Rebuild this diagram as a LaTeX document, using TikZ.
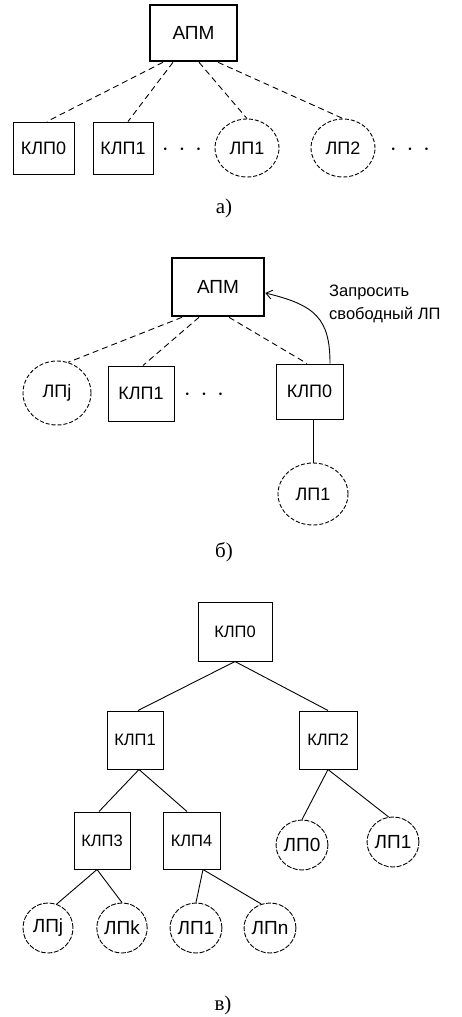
\documentclass[tikz,border=0pt]{standalone}
\usepackage{fontspec}
\setmainfont{Liberation Serif}
\newfontfamily\arial{Liberation Sans}
\usetikzlibrary{shapes.geometric,arrows.meta,calc}
\begin{document}
\begin{tikzpicture}[x=1pt,y=-1pt,
  box/.style={draw,line width=1pt,rectangle,inner sep=0pt,font=\arial\fontsize{18}{20}\selectfont},
  apmbox/.style={draw,line width=2.6pt,rectangle,inner sep=0pt,minimum width=#1,font=\arial\fontsize{19}{21}\selectfont},
  circA/.style={draw,ellipse,inner sep=0pt,line width=0.9pt,dash pattern=on 4pt off 2pt,font=\arial\fontsize{18}{20}\selectfont},
  cbox/.style={draw,line width=1pt,rectangle,inner sep=0pt,minimum width=57pt,minimum height=57pt,font=\arial\fontsize{16.5}{18}\selectfont},
  circC/.style={draw,ellipse,inner sep=0pt,minimum width=50pt,minimum height=50pt,line width=0.9pt,dash pattern=on 5pt off 1.5pt,font=\arial\fontsize{19}{20}\selectfont},
  dline/.style={line width=0.9pt,dash pattern=on 6pt off 4pt},
  sline/.style={line width=0.9pt},
  dotsn/.style={inner sep=0pt,font=\arial\fontsize{30}{30}\selectfont},
  caption/.style={inner sep=0pt,font=\fontsize{21}{24}\selectfont}
]
\useasboundingbox (0,0) rectangle (462,1017);
% ---------- a)
\node[apmbox=87pt,minimum height=56pt] (apmA) at (193.5,33) {АПМ};
\node[box,minimum width=61pt,minimum height=52pt] (klp0a) at (43.5,148) {КЛП0};
\node[box,minimum width=60pt,minimum height=52pt] (klp1a) at (123,148) {КЛП1};
\node[dotsn] (dotsa1) at (182,150) {$\cdot\,\cdot\,\cdot$};
\node[circA,minimum width=64pt,minimum height=58pt] (lp1a) at (247,148) {ЛП1};
\node[circA,minimum width=64pt,minimum height=58pt] (lp2a) at (343,148) {ЛП2};
\node[dotsn] (dotsa2) at (410,150) {$\cdot\,\cdot\,\cdot$};
\node[caption] (capA) at (224,208) {а)};
\draw[dline] ([xshift=-30.5pt]apmA.south) -- ([xshift=3.5pt]klp0a.north);
\draw[dline] ([xshift=-20.5pt]apmA.south) -- ([xshift=5pt]klp1a.north);
\draw[dline] ([xshift=5.5pt]apmA.south) -- (lp1a.north);
\draw[dline] ([xshift=24.5pt]apmA.south) -- (lp2a.north);
% ---------- b)
\node[apmbox=92pt,minimum height=58pt] (apmB) at (218,287) {АПМ};
\node[circA,minimum width=68pt,minimum height=64pt] (lpjb) at (57,393) {ЛПj};
\node[box,minimum width=66pt,minimum height=55pt] (klp1b) at (141,393.5) {КЛП1};
\node[dotsn] (dotsb) at (204,395) {$\cdot\,\cdot\,\cdot$};
\node[box,minimum width=67pt,minimum height=55pt] (klp0b) at (309.5,391.5) {КЛП0};
\node[circA,minimum width=70pt,minimum height=62pt] (lp1b) at (313,494) {ЛП1};
\node[anchor=west,align=left,inner sep=0pt,font=\arial\fontsize{16.5}{23}\selectfont] (req) at (329,303.5) {Запросить\\свободный ЛП};
\node[caption] (capB) at (224,552) {б)};
\draw[dline] ([xshift=-36pt]apmB.south) -- (lpjb.70);
\draw[dline] ([xshift=-19pt]apmB.south) -- ([xshift=2pt]klp1b.north);
\draw[dline] ([xshift=11pt]apmB.south) -- ([xshift=-2.5pt]klp0b.north);
\draw[sline] ([xshift=3.5pt]klp0b.south) -- (lp1b.north);
\draw[sline,-{Straight Barb[length=6pt,width=9pt]}] ([xshift=20.5pt]klp0b.north) .. controls +(0,-45) and +(50,12) .. ([yshift=-6pt]apmB.east);
% ---------- c)
\node[cbox,minimum width=74pt,minimum height=59pt] (k0) at (235,631.5) {КЛП0};
\node[cbox,minimum width=56pt,minimum height=58pt] (k1) at (135,740) {КЛП1};
\node[cbox,minimum width=58pt,minimum height=58pt] (k2) at (328,740) {КЛП2};
\node[cbox,minimum width=56pt,minimum height=57pt] (k3) at (102,840.5) {КЛП3};
\node[cbox,minimum width=57pt,minimum height=57pt] (k4) at (191.5,840.5) {КЛП4};
\node[circC] (l0) at (302,845) {ЛП0};
\node[circC] (l1) at (393,842) {ЛП1};
\node[circC] (lj) at (48,928) {ЛПj};
\node[circC] (lk) at (122,928) {ЛПk};
\node[circC] (ll) at (196,928) {ЛП1};
\node[circC] (ln) at (270,928) {ЛПn};
\node[caption] (capC) at (223,1005) {в)};
\draw[sline] (k0.south) -- ([xshift=3pt]k1.north);
\draw[sline] (k0.south) -- (k2.north);
\draw[sline] ([xshift=4pt]k1.south) -- ([xshift=-3pt]k3.north);
\draw[sline] ([xshift=4pt]k1.south) -- ([xshift=-4.5pt]k4.north);
\draw[sline] (k2.south) -- (l0.north);
\draw[sline] (k2.south) -- (l1.100);
\draw[sline] ([xshift=-5pt]k3.south) -- (lj.70);
\draw[sline] ([xshift=-5pt]k3.south) -- (lk.north);
\draw[sline] ([xshift=11.5pt]k4.south) -- (ll.north);
\draw[sline] ([xshift=11.5pt]k4.south) -- (ln.110);
\end{tikzpicture}
\end{document}
